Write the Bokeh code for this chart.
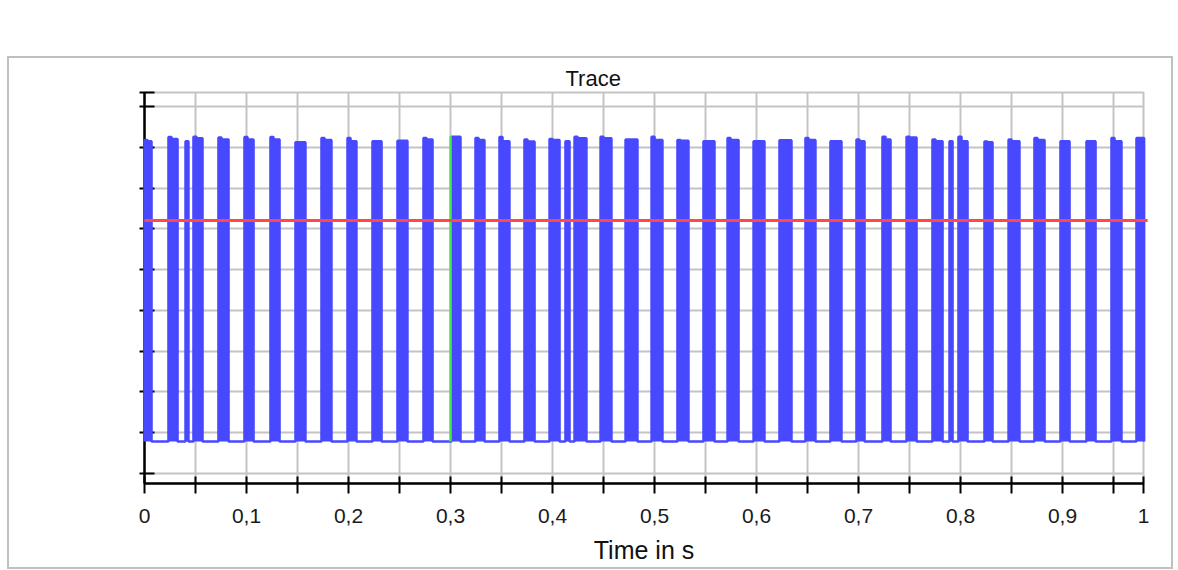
from bokeh.plotting import figure
from bokeh.models import Range1d, FixedTicker, InlineStyleSheet, Title
from bokeh.embed import file_html
from bokeh.resources import INLINE

# ---------------- data ----------------
title_text = "Trace"
x_label = "Time in s"
x_end = 0.9794
x_major_ticks = [0.0, 0.1, 0.2, 0.3, 0.4, 0.5, 0.6, 0.7, 0.8, 0.9, x_end]
x_major_labels = ["0", "0,1", "0,2", "0,3", "0,4", "0,5", "0,6", "0,7", "0,8", "0,9", "1"]
x_minor_ticks = [0.05, 0.15, 0.25, 0.35, 0.45, 0.55, 0.65, 0.75, 0.85, 0.95]
y_start = -0.245
y_end = 9.343
y_ticks = [0, 1, 2, 3, 4, 5, 6, 7, 8, 9, y_end]

pulse_start = [0.0, 0.0235, 0.0402, 0.0480, 0.0725, 0.0980, 0.1235, 0.1480, 0.1735, 0.1990,
               0.2235, 0.2480, 0.2735, 0.3010, 0.3245, 0.3480, 0.3725, 0.3971, 0.4127, 0.4216,
               0.4471, 0.4716, 0.4971, 0.5225, 0.5480, 0.5716, 0.5971, 0.6225, 0.6480, 0.6725,
               0.6980, 0.7235, 0.7471, 0.7725, 0.7892, 0.7980, 0.8235, 0.8471, 0.8725, 0.8980,
               0.9235, 0.9480, 0.9725]
pulse_end = [0.0069, 0.0324, 0.0431, 0.0569, 0.0824, 0.1069, 0.1324, 0.1578, 0.1833, 0.2078,
             0.2324, 0.2578, 0.2824, 0.3098, 0.3333, 0.3578, 0.3824, 0.4069, 0.4167, 0.4333,
             0.4578, 0.4833, 0.5078, 0.5333, 0.5588, 0.5824, 0.6078, 0.6343, 0.6578, 0.6833,
             0.7059, 0.7314, 0.7569, 0.7824, 0.7922, 0.8069, 0.8314, 0.8578, 0.8824, 0.9069,
             0.9324, 0.9578, 0.9800]
pulse_peak = [8.18, 8.25, 8.15, 8.26, 8.24, 8.25, 8.25, 8.12, 8.23, 8.23,
              8.15, 8.16, 8.23, 8.26, 8.23, 8.25, 8.19, 8.20, 8.15, 8.26,
              8.26, 8.19, 8.26, 8.18, 8.15, 8.23, 8.15, 8.17, 8.23, 8.15,
              8.19, 8.26, 8.26, 8.19, 8.15, 8.26, 8.14, 8.19, 8.23, 8.15,
              8.15, 8.23, 8.23]
pulse_level = [8.15, 8.20, 8.15, 8.22, 8.19, 8.19, 8.19, 8.12, 8.18, 8.15,
               8.15, 8.16, 8.19, 8.26, 8.18, 8.15, 8.14, 8.18, 8.15, 8.22,
               8.22, 8.19, 8.18, 8.16, 8.15, 8.18, 8.15, 8.17, 8.18, 8.15,
               8.15, 8.19, 8.24, 8.15, 8.15, 8.15, 8.12, 8.15, 8.18, 8.15,
               8.15, 8.15, 8.23]
peak_len = 0.003
baseline = 0.785
threshold = 6.204
cursor_t = 0.3
cursor_top = 8.27

# ---------------- build step signal ----------------
xs, ys = [], []
for s, e, pk, lv in zip(pulse_start, pulse_end, pulse_peak, pulse_level):
    m = min(s + peak_len, e)
    xs += [s, s, m, m, e, e]
    ys += [baseline, pk, pk, lv, lv, baseline]
if xs[-1] < x_end:
    xs.append(x_end)
    ys.append(baseline)

FONT = "Liberation Sans"
BLUE = "#4848ff"
GRID = "#c4c4c4"

frame_css = InlineStyleSheet(css="""
:host { position: relative; }
:host::after {
  content: ""; position: absolute; left: 7px; top: 56px;
  width: 1162px; height: 509px; border: 2px solid #c0c0c0;
  pointer-events: none;
}
""")

p = figure(width=1178, height=570, output_backend="svg", toolbar_location=None,
           x_range=Range1d(0, x_end), y_range=Range1d(y_start, y_end),
           min_border_left=144, min_border_right=35, min_border_top=92, min_border_bottom=87,
           background_fill_color="white", border_fill_color="white")
p.stylesheets = [frame_css]

xa = p.below[0]
ya = p.left[0]
xgrid = p.xgrid[0]
ygrid = p.ygrid[0]

# blank spacer title next to the frame, pushes the real title up to the page top
spacer = Title(text=" ", text_font_size="10px", standoff=45, text_color=None)
p.add_layout(spacer, "above")

p.title.text = title_text
p.title.align = "left"
p.title.offset = 421
p.title.vertical_align = "top"
p.title.standoff = 0
p.title.text_font = FONT
p.title.text_font_size = "22px"
p.title.text_font_style = "normal"
p.title.text_color = "#111111"

p.outline_line_color = GRID
p.outline_line_width = 2

# tickers / grids
x_ticker = FixedTicker(ticks=x_major_ticks, minor_ticks=x_minor_ticks)
y_ticker = FixedTicker(ticks=[], minor_ticks=y_ticks)
xa.ticker = x_ticker
ya.ticker = y_ticker
xgrid.ticker = x_ticker
ygrid.ticker = y_ticker
for g in (xgrid, ygrid):
    g.grid_line_color = GRID
    g.grid_line_width = 2
    g.minor_grid_line_color = GRID
    g.minor_grid_line_width = 2

# signal
r1 = p.varea(x=xs, y1=baseline, y2=ys, fill_color=BLUE)
r2 = p.line(xs, ys, line_color=BLUE, line_width=2.5)
r3 = p.line([cursor_t, cursor_t], [baseline, cursor_top], line_color="#44ee44", line_width=2.5)
r4 = p.line([0, x_end + 0.004], [threshold, threshold], line_color="#ff4848", line_width=3)
for r in (r1, r2, r3, r4):
    r.level = "overlay"

# x axis
xa.major_label_overrides = {t: l for t, l in zip(x_major_ticks, x_major_labels)}
xa.axis_line_color = "black"
xa.axis_line_width = 2.5
xa.major_tick_line_width = 2
xa.major_tick_in = 7
xa.major_tick_out = 10
xa.minor_tick_line_width = 2
xa.minor_tick_line_color = "black"
xa.minor_tick_in = 7
xa.minor_tick_out = 10
xa.major_label_text_font = FONT
xa.major_label_text_font_size = "21px"
xa.major_label_text_color = "#1a1a1a"
xa.major_label_standoff = 15
xa.axis_label = x_label
xa.axis_label_text_font = FONT
xa.axis_label_text_font_size = "25px"
xa.axis_label_text_font_style = "normal"
xa.axis_label_text_color = "#111111"
xa.axis_label_standoff = 10

# y axis
ya.axis_line_color = "black"
ya.axis_line_width = 2.5
ya.minor_tick_line_width = 2
ya.minor_tick_line_color = "black"
ya.minor_tick_in = 10
ya.minor_tick_out = 5

open("out.html", "w").write(file_html(p, INLINE))
